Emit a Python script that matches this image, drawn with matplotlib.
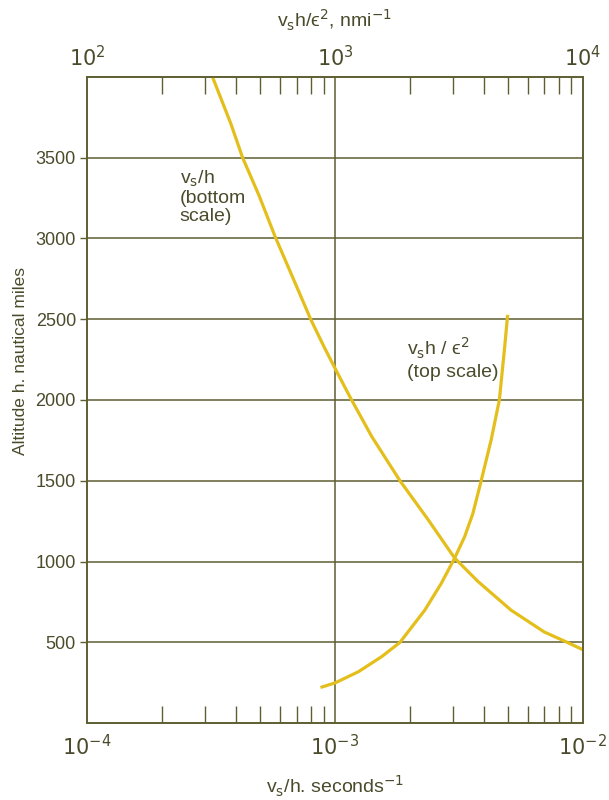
import numpy as np
import matplotlib
matplotlib.use("Agg")
import matplotlib.pyplot as plt
from matplotlib.ticker import LogLocator, NullFormatter

# v_s/h against altitude (bottom scale, seconds^-1)
alt_low = [3997, 3706, 3500, 3262, 3010, 2762, 2500, 2330, 2197, 2012,
           1772, 1500, 1258, 1022, 878, 700, 565, 500, 455]
vs_over_h = [3.21e-4, 3.81e-4, 4.24e-4, 4.95e-4, 5.74e-4, 6.74e-4, 7.98e-4,
             9.03e-4, 1.0e-3, 1.156e-3, 1.41e-3, 1.83e-3, 2.38e-3, 3.04e-3,
             3.77e-3, 5.13e-3, 6.98e-3, 8.66e-3, 1.0e-2]

# v_s h / eps^2 against altitude (top scale, nmi^-1)
alt_top = [221, 250, 319, 412, 500, 700, 866, 1022, 1153, 1297, 1500,
           1752, 2000, 2310, 2527]
vs_h_eps2 = [874, 1004, 1245, 1544, 1829, 2305, 2687, 3041, 3334, 3600,
             3890, 4266, 4606, 4826, 4975]

yticks = [500, 1000, 1500, 2000, 2500, 3000, 3500]

ink = "#4b4b2c"
gridc = "#5e5e32"
curve = "#e4bf1c"

plt.rcParams["font.family"] = ["Liberation Sans", "DejaVu Sans"]
plt.rcParams["mathtext.fontset"] = "dejavusans"

fig = plt.figure(figsize=(6.09, 8.0), dpi=100)
ax = fig.add_axes([0.143, 0.096, 0.814, 0.808])

ax.set_xscale("log")
ax.set_xlim(1e-4, 1e-2)
ax.set_ylim(0, 4000)

ax.set_yticks(yticks)
ax.set_yticklabels([str(v) for v in yticks], color=ink, fontsize=13)
ax.tick_params(axis="y", direction="out", length=5, width=1, color=gridc, pad=3)

ax.set_xticks([1e-4, 1e-3, 1e-2])
ax.set_xticklabels([r"$10^{-4}$", r"$10^{-3}$", r"$10^{-2}$"], color=ink, fontsize=15)
ax.xaxis.set_minor_locator(LogLocator(base=10, subs=np.arange(2, 10), numticks=10))
ax.xaxis.set_minor_formatter(NullFormatter())
ax.tick_params(axis="x", which="major", direction="in", length=0, pad=8)
ax.tick_params(axis="x", which="minor", direction="in", length=12, width=1, color=gridc)

for y in yticks:
    ax.axhline(y, color=gridc, lw=1.1, zorder=1)
ax.axvline(1e-3, color=gridc, lw=1.1, zorder=1)

for s in ax.spines.values():
    s.set_color(gridc)
    s.set_linewidth(1.2)

ax.plot(vs_over_h, alt_low, color=curve, lw=2.3, solid_capstyle="butt", zorder=3)

ax.set_xlabel(r"v$_\mathsf{s}$/h. seconds$^{-1}$", color=ink, fontsize=14, labelpad=10)
ax.set_ylabel("Altitude h. nautical miles", color=ink, fontsize=12.5)
ax.yaxis.set_label_coords(-0.12, 0.56)

top = ax.twiny()
top.set_xscale("log")
top.set_xlim(1e2, 1e4)
top.set_ylim(0, 4000)
top.set_xticks([1e2, 1e3, 1e4])
top.set_xticklabels([r"$10^{2}$", r"$10^{3}$", r"$10^{4}$"], color=ink, fontsize=15)
top.xaxis.set_minor_locator(LogLocator(base=10, subs=np.arange(2, 10), numticks=10))
top.xaxis.set_minor_formatter(NullFormatter())
top.tick_params(axis="x", which="major", direction="in", length=0, pad=5)
top.tick_params(axis="x", which="minor", direction="in", length=12, width=1, color=gridc)
for s in top.spines.values():
    s.set_color(gridc)
    s.set_linewidth(1.2)

top.plot(vs_h_eps2, alt_top, color=curve, lw=2.3, solid_capstyle="butt", zorder=3)
top.set_xlabel(r"v$_\mathsf{s}$h/ϵ$^{2}$, nmi$^{-1}$", color=ink, fontsize=14, labelpad=12)

ax.text(2.36e-4, 3430, r"v$_\mathsf{s}$/h" + "\n(bottom\nscale)", color=ink,
        fontsize=14, va="top", ha="left", linespacing=1.05)
top.text(1.945e3, 2120, r"v$_\mathsf{s}$h / ϵ$^{2}$" + "\n(top scale)", color=ink,
         fontsize=14, va="bottom", ha="left", linespacing=1.2)

fig.savefig("out.png", dpi=100)
